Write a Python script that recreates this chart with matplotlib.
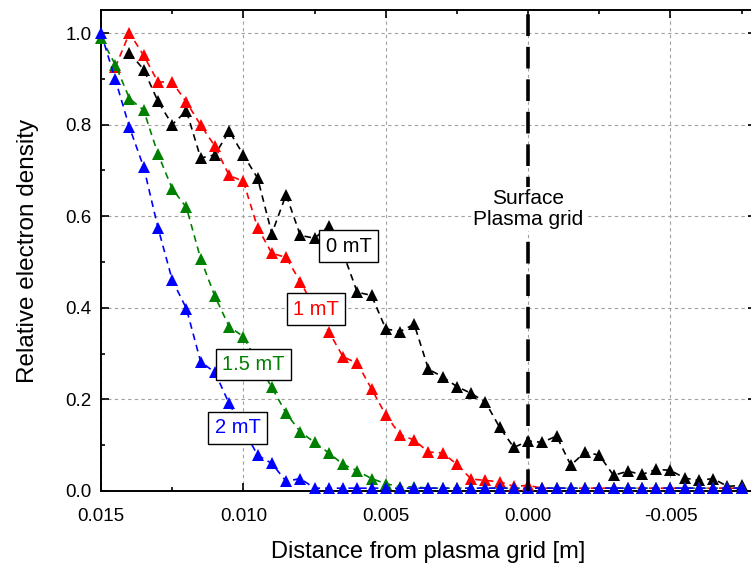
import matplotlib
matplotlib.use("Agg")
import matplotlib.pyplot as plt
import numpy as np

plt.rcParams['font.family'] = ['Liberation Sans', 'DejaVu Sans']
plt.rcParams['axes.unicode_minus'] = False

# distance from plasma grid [m], one point every 0.5 mm
distance = np.round(0.015 - 0.0005 * np.arange(46), 4)

nan = np.nan
dens_0mT = [nan, nan, 0.957, 0.920, 0.851, 0.800, 0.830, 0.727, 0.734, 0.786,
            0.734, 0.683, 0.562, 0.647, 0.558, 0.552, 0.578, 0.520, 0.434, 0.427,
            0.354, 0.348, 0.364, 0.266, 0.249, 0.228, 0.213, 0.194, 0.139, 0.095,
            0.109, 0.106, 0.120, 0.056, 0.085, 0.078, 0.034, 0.043, 0.036, 0.047,
            0.045, 0.028, 0.023, 0.027, 0.010, 0.012]
dens_1mT = [nan, 0.925, 1.000, 0.951, 0.893, 0.893, 0.849, 0.799, 0.753, 0.689,
            0.676, 0.575, 0.519, 0.510, 0.457, 0.400, 0.348, 0.293, 0.279, 0.223,
            0.166, 0.123, 0.111, 0.085, 0.083, 0.058, 0.026, 0.023, 0.020, 0.010,
            0.012] + [0.006] * 15
dens_15mT = [0.990, 0.931, 0.857, 0.831, 0.736, 0.660, 0.619, 0.507, 0.425, 0.359,
             0.337, 0.280, 0.226, 0.170, 0.129, 0.106, 0.083, 0.058, 0.044, 0.027,
             0.016, 0.009, 0.009] + [0.006] * 23
dens_2mT = [1.000, 0.899, 0.794, 0.707, 0.575, 0.461, 0.398, 0.282, 0.259, 0.191,
            0.135, 0.078, 0.060, 0.021, 0.027] + [0.006] * 31

series = [("0 mT", dens_0mT, "black", (0.0063, 0.534)),
          ("1 mT", dens_1mT, "#ff0000", (0.00745, 0.397)),
          ("1.5 mT", dens_15mT, "#008000", (0.00964, 0.276)),
          ("2 mT", dens_2mT, "#0000ff", (0.0102, 0.138))]

fig = plt.figure(figsize=(7.51, 5.63), dpi=100)
ax = fig.add_axes([0.1345, 0.128, 0.872, 0.854])

ax.grid(True, which="major", color="#a0a0a0", linestyle=(0, (3, 3)), linewidth=0.8)
ax.set_axisbelow(True)

for label, vals, col, pos in series:
    ax.plot(distance, vals, linestyle=(0, (4, 3)), color=col, linewidth=1.2,
            marker="^", markersize=8.5, markeredgewidth=0, clip_on=False, zorder=3)
    ax.text(pos[0], pos[1], label, color=col, fontsize=14.5, ha="center", va="center",
            zorder=5, bbox=dict(boxstyle="square,pad=0.32", facecolor="white",
                                edgecolor="black", linewidth=1.0))

ax.axvline(0.0, color="black", linewidth=2.6, linestyle=(0, (6, 3)), zorder=4)
ax.text(0.0, 0.615, "Surface\nPlasma grid", fontsize=15, ha="center", va="center",
        linespacing=1.12, zorder=5,
        bbox=dict(boxstyle="square,pad=0.1", facecolor="white", edgecolor="none"))

ax.set_xlim(0.015, -0.008)
ax.set_ylim(0, 1.05)
ax.set_xticks([0.015, 0.010, 0.005, 0.000, -0.005])
ax.set_xticklabels(["0.015", "0.010", "0.005", "0.000", "-0.005"])
ax.set_xticks(np.arange(0.015, -0.0081, -0.0025), minor=True)
ax.set_yticks([0.0, 0.2, 0.4, 0.6, 0.8, 1.0])
ax.set_yticklabels(["0.0", "0.2", "0.4", "0.6", "0.8", "1.0"])
ax.set_yticks(np.arange(0, 1.05, 0.1), minor=True)

ax.tick_params(which="both", direction="in", top=True, right=True, width=1.2,
               labelsize=13.5)
ax.tick_params(which="major", length=6)
ax.tick_params(which="minor", length=3)
ax.tick_params(axis="x", pad=12)
ax.tick_params(axis="y", pad=7)
for sp in ax.spines.values():
    sp.set_linewidth(1.4)

ax.set_xlabel("Distance from plasma grid [m]", fontsize=17, labelpad=12)
ax.set_ylabel("Relative electron density", fontsize=17.5, labelpad=19)

fig.savefig("out.png", dpi=100)
